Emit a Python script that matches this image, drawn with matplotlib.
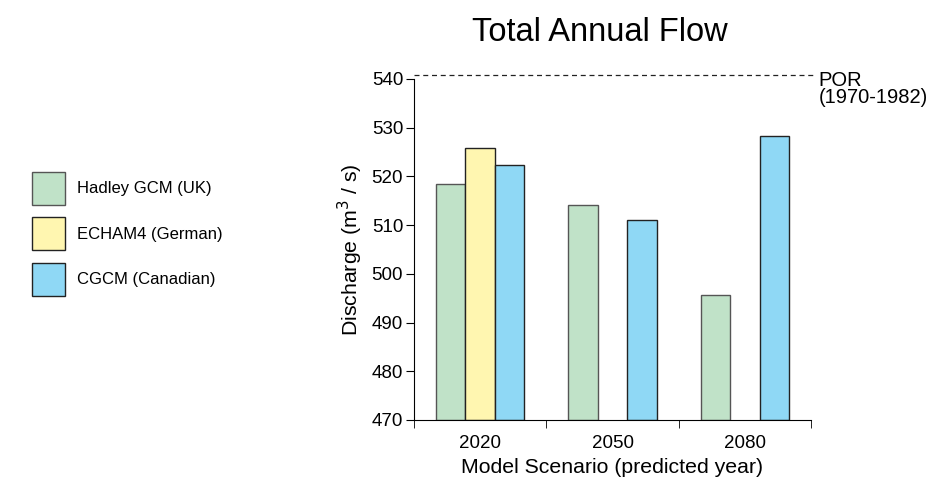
import numpy as np
from matplotlib import pyplot as plt
from matplotlib.patches import Patch

plt.rcParams['font.family'] = ['Liberation Sans', 'DejaVu Sans']

# Dados do gráfico
anos = ['2020', '2050', '2080']
modelos = ['Hadley GCM (UK)', 'ECHAM4 (German)', 'CGCM (Canadian)']
hadley = [518.5, 514.1, 495.7]
echam4 = [525.9, None, None]
cgcm = [522.4, 511.0, 528.2]
por = 540.8
cores = ['#c0e2c8', '#fff6b0', '#8fd8f5']
bordas = ['#555555', '#222222', '#222222']

fig = plt.figure(figsize=(9.32, 4.87), dpi=100)
ax = fig.add_axes([0.4442, 0.1376, 0.4260, 0.7002])

x = np.arange(len(anos))
w = 0.223
for i, serie in enumerate([hadley, echam4, cgcm]):
    xs = [xi + (i - 1) * w for xi, v in zip(x, serie) if v is not None]
    vs = [v for v in serie if v is not None]
    ax.bar(xs, [v - 470 for v in vs], bottom=470, width=w, color=cores[i],
           edgecolor=bordas[i], linewidth=1)

ax.set_ylim(470, 540)
ax.set_xlim(-0.5, 2.5)
ax.set_yticks(range(470, 541, 10))
ax.set_xticks(x)
ax.set_xticklabels(anos)
ax.set_xticks([-0.5, 0.5, 1.5, 2.5], minor=True)
ax.tick_params(axis='x', which='major', length=0, pad=11, labelsize=13.5)
ax.tick_params(axis='x', which='minor', length=6, direction='out')
ax.tick_params(axis='y', length=5.8, pad=2, direction='out', labelsize=13.5)
for s in ['top', 'right']:
    ax.spines[s].set_visible(False)

# Linha POR tracejada
ax.plot([-0.5, 2.53], [por, por], linestyle=(0, (4, 3)), color='#222222',
        linewidth=0.9, clip_on=False)
ax.text(2.555, por + 0.9, 'POR\n(1970-1982)', fontsize=14.5, va='top', ha='left',
        linespacing=0.9)

ax.set_ylabel('Discharge (m$^3$ / s)', fontsize=15.3, labelpad=5)
ax.set_xlabel('Model Scenario (predicted year)', fontsize=15.3, labelpad=4)
fig.text(0.644, 0.933, 'Total Annual Flow', fontsize=23.5, ha='center', va='center')

handles = [Patch(facecolor=c, edgecolor=b, label=m) for c, b, m in zip(cores, bordas, modelos)]
fig.legend(handles=handles, loc='upper left', bbox_to_anchor=(0.034, 0.647),
           frameon=False, fontsize=12, handlelength=1.98, handleheight=2.67,
           labelspacing=0.75, handletextpad=0.72, borderpad=0, borderaxespad=0)

plt.savefig('out.png', dpi=100)
